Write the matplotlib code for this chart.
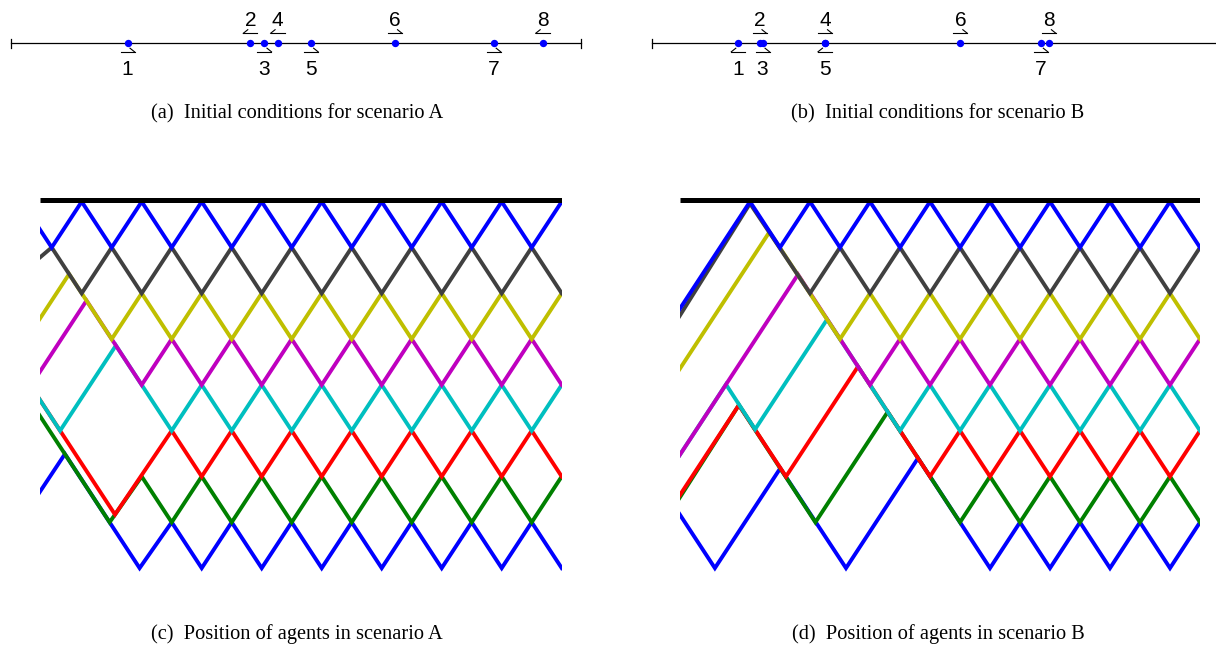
import matplotlib.pyplot as plt

W, H = 1216, 648

# ---- initial conditions (fraction along the segment) ----
agent_labels = ["1", "2", "3", "4", "5", "6", "7", "8"]
start_a = [0.2044, 0.4198, 0.4447, 0.4677, 0.5265, 0.6737, 0.8468, 0.9328]
heading_a = [1, -1, 1, -1, 1, 1, 1, -1]
start_b = [0.1514, 0.1886, 0.1939, 0.3035, 0.3035, 0.5409, 0.6821, 0.6963]
heading_b = [-1, 1, 1, 1, -1, 1, 1, 1]

# ---- trajectories: time (t) and position below the wall (p) ----
agent_colors = ["#0000ff", "#404040", "#bfbf00", "#bf00bf",
                "#00bfbf", "#ff0000", "#008000", "#0000ff"]

traj_a_t = [
    [0.55, 1, 2, 3, 4, 5, 6, 7, 8, 9, 10, 11, 12, 13, 14, 15, 16, 17, 18],
    [0.55, 1, 2, 3, 4, 5, 6, 7, 8, 9, 10, 11, 12, 13, 14, 15, 16, 17, 18],
    [0.55, 1.58, 3, 4, 5, 6, 7, 8, 9, 10, 11, 12, 13, 14, 15, 16, 17, 18],
    [0.55, 2.16, 4, 5, 6, 7, 8, 9, 10, 11, 12, 13, 14, 15, 16, 17, 18],
    [0.55, 1.28, 3.14, 5, 6, 7, 8, 9, 10, 11, 12, 13, 14, 15, 16, 17, 18],
    [0.55, 3.11, 5, 6, 7, 8, 9, 10, 11, 12, 13, 14, 15, 16, 17, 18],
    [0.55, 2.93, 4, 5, 6, 7, 8, 9, 10, 11, 12, 13, 14, 15, 16, 17, 18],
    [0.55, 1.44, 3.93, 5, 6, 7, 8, 9, 10, 11, 12, 13, 14, 15, 16, 17, 18],
]
traj_a_p = [
    [0.55, 1, 0, 1, 0, 1, 0, 1, 0, 1, 0, 1, 0, 1, 0, 1, 0, 1, 0],
    [1.25, 1, 2, 1, 2, 1, 2, 1, 2, 1, 2, 1, 2, 1, 2, 1, 2, 1, 2],
    [2.61, 1.58, 3, 2, 3, 2, 3, 2, 3, 2, 3, 2, 3, 2, 3, 2, 3, 2],
    [3.77, 2.16, 4, 3, 4, 3, 4, 3, 4, 3, 4, 3, 4, 3, 4, 3, 4],
    [4.27, 5.0, 3.14, 5, 4, 5, 4, 5, 4, 5, 4, 5, 4, 5, 4, 5, 4],
    [4.27, 6.83, 5, 6, 5, 6, 5, 6, 5, 6, 5, 6, 5, 6, 5, 6],
    [4.62, 7.0, 6, 7, 6, 7, 6, 7, 6, 7, 6, 7, 6, 7, 6, 7, 6],
    [6.39, 5.51, 8.0, 7, 8, 7, 8, 7, 8, 7, 8, 7, 8, 7, 8, 7, 8],
]

traj_b_t = [
    [-0.35, 2, 3, 4, 5, 6, 7, 8, 9, 10, 11, 12, 13, 14, 15, 16, 17],
    [-0.35, 2.0, 4, 5, 6, 7, 8, 9, 10, 11, 12, 13, 14, 15, 16, 17],
    [-0.35, 2.65, 5, 6, 7, 8, 9, 10, 11, 12, 13, 14, 15, 16, 17],
    [-0.35, 3.6, 6, 7, 8, 9, 10, 11, 12, 13, 14, 15, 16, 17],
    [-0.35, 1.2, 2.17, 4.57, 7, 8, 9, 10, 11, 12, 13, 14, 15, 16, 17],
    [-0.35, 1.63, 3.2, 5.6, 8, 9, 10, 11, 12, 13, 14, 15, 16, 17],
    [-0.35, 1.63, 4.18, 6.59, 9, 10, 11, 12, 13, 14, 15, 16, 17],
    [-0.35, 0.83, 3.01, 5.2, 7.6, 10, 11, 12, 13, 14, 15, 16, 17],
]
traj_b_p = [
    [2.35, 0, 1, 0, 1, 0, 1, 0, 1, 0, 1, 0, 1, 0, 1, 0, 1],
    [2.5, 0.04, 2, 1, 2, 1, 2, 1, 2, 1, 2, 1, 2, 1, 2, 1],
    [3.66, 0.66, 3, 2, 3, 2, 3, 2, 3, 2, 3, 2, 3, 2, 3],
    [5.54, 1.59, 4, 3, 4, 3, 4, 3, 4, 3, 4, 3, 4, 3],
    [5.54, 3.99, 4.97, 2.57, 5, 4, 5, 4, 5, 4, 5, 4, 5, 4, 5],
    [6.42, 4.44, 6.0, 3.6, 6, 5, 6, 5, 6, 5, 6, 5, 6, 5],
    [6.47, 4.44, 7.0, 4.59, 7, 6, 7, 6, 7, 6, 7, 6, 7],
    [6.82, 8.0, 5.82, 8.0, 5.6, 8, 7, 8, 7, 8, 7, 8, 7],
]

captions = ["(a)  Initial conditions for scenario A",
            "(b)  Initial conditions for scenario B",
            "(c)  Position of agents in scenario A",
            "(d)  Position of agents in scenario B"]

fig = plt.figure(figsize=(W / 100, H / 100), dpi=100)


def px_axes(x0, y0, x1, y1):
    ax = fig.add_axes([x0 / W, 1 - y1 / H, (x1 - x0) / W, (y1 - y0) / H])
    ax.set_axis_off()
    return ax


def number_line(ax, starts, headings):
    seg = 570.0  # pixels per unit of segment
    ax.set_xlim(0, 1)
    ax.set_ylim(-47, 43)
    ax.plot([0, 1], [0, 0], color="k", lw=0.9, clip_on=False)
    for xe in (0, 1):
        ax.plot([xe, xe], [-4.5, 4.5], color="k", lw=0.9, clip_on=False)
    ax.plot(starts, [0] * len(starts), "o", color="#0000ff", ms=5.3,
            mec="none", zorder=5, clip_on=False)
    hw = 7 / seg
    for x, d, lab in zip(starts, headings, agent_labels):
        above = int(lab) % 2 == 0
        yh = 9.7 if above else -8.8
        tip = x + d * hw
        ax.plot([x - hw, x + hw], [yh, yh], color="k", lw=0.8, clip_on=False)
        ax.plot([tip, tip - d * 4.5 / seg], [yh, yh + 3.6], color="k",
                lw=0.8, clip_on=False)
        ax.text(x, 16.5 if above else -32, lab, ha="center", va="baseline",
                fontsize=15, family="Liberation Sans", clip_on=False)


def trajectories(ax, t0, t1, ts, ps):
    ax.set_xlim(t0, t1)
    ax.set_ylim(8.26, -0.255)
    for k, (t, p, c) in enumerate(zip(ts, ps, agent_colors)):
        ax.plot(t, p, color=c, lw=2.8, zorder=10 - k,
                solid_joinstyle="miter")
    ax.plot([t0, t1], [-0.03, -0.03], color="k", lw=3.6,
            solid_capstyle="butt", zorder=20)


ax_a = px_axes(11, 0, 581, 90)
number_line(ax_a, start_a, heading_a)
ax_b = px_axes(652, 0, 1222, 90)
number_line(ax_b, start_b, heading_b)

ax_c = px_axes(40, 190, 562, 580)
trajectories(ax_c, 0.61, 18.01, traj_a_t, traj_a_p)
ax_d = px_axes(680, 190, 1200, 580)
trajectories(ax_d, -0.333, 17.0, traj_b_t, traj_b_p)

for (cx, cy), txt in zip([(297, 118.5), (938, 118.5), (297, 638.5), (938, 638.5)],
                         captions):
    fig.text(cx / W, 1 - cy / H, txt, ha="center", va="baseline",
             fontsize=14.7, family="Liberation Serif")

fig.savefig("out.png", dpi=100)
